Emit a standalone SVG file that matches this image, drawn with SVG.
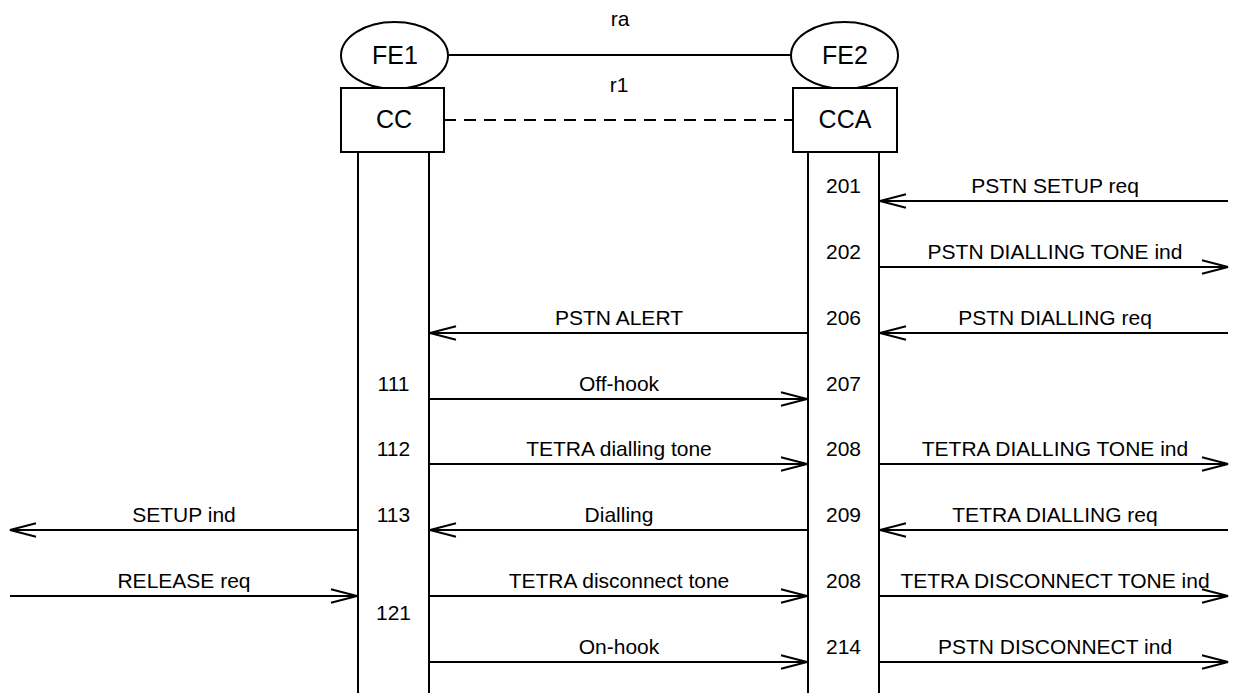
<svg xmlns="http://www.w3.org/2000/svg" width="1238" height="693" viewBox="0 0 1238 693">
<style>
  text{font-family:"Liberation Sans",Arial,sans-serif;fill:#000}
  .m{font-size:21px;text-anchor:middle}
  .n{font-size:25px;text-anchor:middle}
  .shape{fill:#fff;stroke:#000;stroke-width:2}
  .ln{stroke:#000;stroke-width:2;fill:none}
  .life{stroke:#000;stroke-width:2}
</style>
<defs>
  <marker id="ah" viewBox="0 0 28 16" refX="27" refY="8" markerWidth="28" markerHeight="16" markerUnits="userSpaceOnUse" orient="auto">
    <path d="M1,1.3 L27,8 L1,14.7" fill="none" stroke="#000" stroke-width="2"/>
  </marker>
</defs>
<rect width="1238" height="693" fill="#fff"/>

<g id="relations">
  <line class="ln" x1="448" y1="55" x2="791" y2="55"/>
  <text class="m" x="620" y="26">ra</text>
  <line class="ln" x1="444" y1="120" x2="793" y2="120" stroke-dasharray="12,8"/>
  <text class="m" x="619" y="92">r1</text>
</g>

<g id="FE1">
  <ellipse class="shape" cx="394.5" cy="55.5" rx="53.5" ry="33.5"/>
  <text class="n" x="395" y="64">FE1</text>
</g>
<g id="FE2">
  <ellipse class="shape" cx="844.5" cy="55.5" rx="53.5" ry="33.5"/>
  <text class="n" x="845" y="64">FE2</text>
</g>
<g id="CC">
  <rect class="shape" x="341" y="88" width="103" height="64"/>
  <text class="n" x="394" y="128">CC</text>
  <line class="life" x1="358" y1="152" x2="358" y2="693"/>
  <line class="life" x1="429" y1="152" x2="429" y2="693"/>
</g>
<g id="CCA">
  <rect class="shape" x="793" y="88" width="104" height="64"/>
  <text class="n" x="845" y="128">CCA</text>
  <line class="life" x1="808" y1="152" x2="808" y2="693"/>
  <line class="life" x1="879" y1="152" x2="879" y2="693"/>
</g>

<g id="labels">
  <text class="m" x="843.5" y="193">201</text>
  <text class="m" x="843.5" y="259">202</text>
  <text class="m" x="843.5" y="325">206</text>
  <text class="m" x="843.5" y="391">207</text>
  <text class="m" x="843.5" y="456">208</text>
  <text class="m" x="843.5" y="522">209</text>
  <text class="m" x="843.5" y="588">208</text>
  <text class="m" x="843.5" y="654">214</text>
  <text class="m" x="393.5" y="391">111</text>
  <text class="m" x="393.5" y="456">112</text>
  <text class="m" x="393.5" y="522">113</text>
  <text class="m" x="393.5" y="620">121</text>
</g>

<g id="connectors">
  <line class="ln" x1="1228" y1="201" x2="880" y2="201" marker-end="url(#ah)"/>
  <text class="m" x="1055" y="193">PSTN SETUP req</text>
  <line class="ln" x1="880" y1="267" x2="1228" y2="267" marker-end="url(#ah)"/>
  <text class="m" x="1055" y="259">PSTN DIALLING TONE ind</text>
  <line class="ln" x1="1228" y1="333" x2="880" y2="333" marker-end="url(#ah)"/>
  <text class="m" x="1055" y="325">PSTN DIALLING req</text>
  <line class="ln" x1="807" y1="333" x2="430" y2="333" marker-end="url(#ah)"/>
  <text class="m" x="619" y="325">PSTN ALERT</text>
  <line class="ln" x1="430" y1="399" x2="807" y2="399" marker-end="url(#ah)"/>
  <text class="m" x="619" y="391">Off-hook</text>
  <line class="ln" x1="430" y1="464" x2="807" y2="464" marker-end="url(#ah)"/>
  <text class="m" x="619" y="456">TETRA dialling tone</text>
  <line class="ln" x1="880" y1="464" x2="1228" y2="464" marker-end="url(#ah)"/>
  <text class="m" x="1055" y="456">TETRA DIALLING TONE ind</text>
  <line class="ln" x1="357" y1="530" x2="10" y2="530" marker-end="url(#ah)"/>
  <text class="m" x="184" y="522">SETUP ind</text>
  <line class="ln" x1="807" y1="530" x2="430" y2="530" marker-end="url(#ah)"/>
  <text class="m" x="619" y="522">Dialling</text>
  <line class="ln" x1="1228" y1="530" x2="880" y2="530" marker-end="url(#ah)"/>
  <text class="m" x="1055" y="522">TETRA DIALLING req</text>
  <line class="ln" x1="10" y1="596" x2="357" y2="596" marker-end="url(#ah)"/>
  <text class="m" x="184" y="588">RELEASE req</text>
  <line class="ln" x1="430" y1="596" x2="807" y2="596" marker-end="url(#ah)"/>
  <text class="m" x="619" y="588">TETRA disconnect tone</text>
  <line class="ln" x1="880" y1="596" x2="1228" y2="596" marker-end="url(#ah)"/>
  <text class="m" x="1055" y="588">TETRA DISCONNECT TONE ind</text>
  <line class="ln" x1="430" y1="662" x2="807" y2="662" marker-end="url(#ah)"/>
  <text class="m" x="619" y="654">On-hook</text>
  <line class="ln" x1="880" y1="662" x2="1228" y2="662" marker-end="url(#ah)"/>
  <text class="m" x="1055" y="654">PSTN DISCONNECT ind</text>
</g>
</svg>
